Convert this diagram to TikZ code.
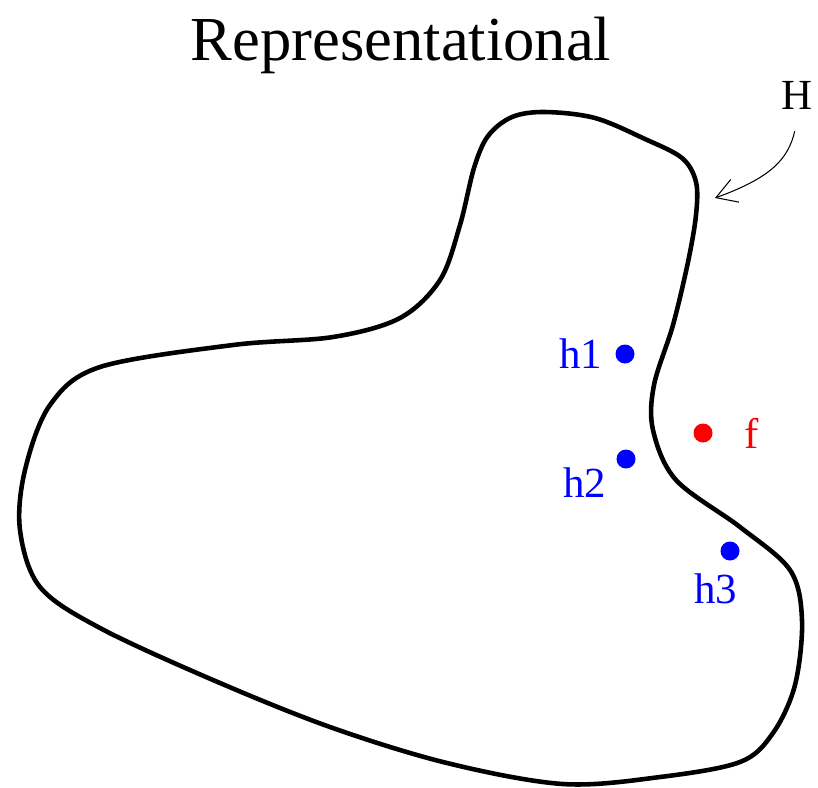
\documentclass[tikz,border=0pt]{standalone}
\usepackage{fontspec}
\setmainfont{Liberation Serif}
\usetikzlibrary{arrows.meta, positioning}

\begin{document}
\begin{tikzpicture}[
  x=0.01cm, y=-0.01cm,
  font=\fontsize{12.2}{14}\selectfont,
  region/.style={line width=1.3pt, line join=round},
  pt/.style={circle, inner sep=0pt, minimum size=0.19cm},
  hpt/.style={pt, fill=blue},
  fpt/.style={pt, fill=red},
  hlab/.style={text=blue},
  flab/.style={text=red},
  pointer/.style={-{Straight Barb[length=2mm, width=2.4mm]}, line width=0.3pt}
]
\useasboundingbox (0,0) rectangle (818,787);

\node[font=\fontsize{17.8}{20}\selectfont, anchor=base] (title) at (401,60) {Representational};

% the set H
\draw[region] plot[smooth cycle, tension=0.55] coordinates {
  (545,112) (595,118) (645,139) (682,158) (696,182) (696,215) (688,262)
  (673,325) (654,385) (653,430) (676,480) (740,527) (790,570) (802,620)
  (795,685) (773,733) (740,762) (660,777) (563,784) (447,763) (330,727)
  (213,680) (100,628) (40,587) (20,530) (25,470) (50,405) (100,367)
  (233,345) (333,337) (400,318) (440,280) (460,225) (474,168) (488,136)
  (512,117)};

\node (H) at (797,95) {H};
\coordinate (Htip) at (715,198);
\draw[pointer, shorten <=0.1cm] (H.south) .. controls (788,160) and (770,178) .. (Htip);

% points
\node[hpt] (h1d) at (625,354) {};
\node[hpt] (h2d) at (626,459) {};
\node[hpt] (h3d) at (730,551) {};
\node[fpt] (fd) at (703,433) {};

\node[hlab, left=0pt of h1d] (h1) {h1};
\node[hlab, below left=-0.11cm and 0cm of h2d] (h2) {h2};
\node[hlab, below=0pt of h3d, xshift=-0.14cm] (h3) {h3};
\node[flab, right=0.19cm of fd] (f) {f};
\end{tikzpicture}
\end{document}
